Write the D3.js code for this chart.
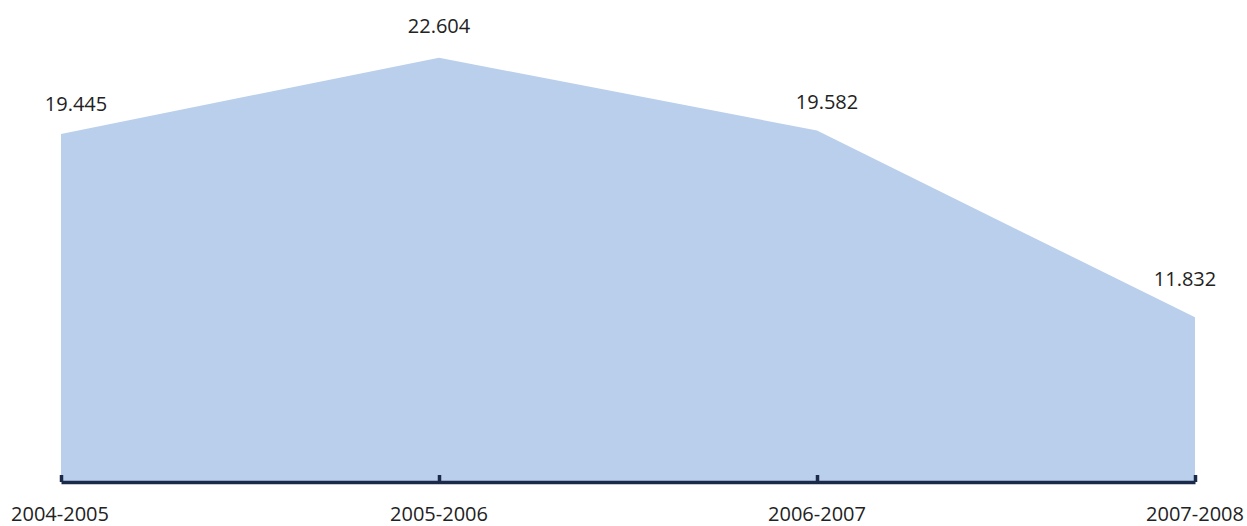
<!DOCTYPE html>
<html>
<head>
<meta charset="utf-8">
<script src="https://cdn.jsdelivr.net/npm/d3@7"></script>
<style>
  body { margin: 0; background: #fff; }
  text { font-family: "Open Sans", sans-serif; fill: #222; }
</style>
</head>
<body>
<div id="chart"></div>
<script>
// data
var categories = ["2004-2005", "2005-2006", "2006-2007", "2007-2008"];
var values = [19.445, 22.604, 19.582, 11.832];
var valueLabels = ["19.445", "22.604", "19.582", "11.832"];

// label nudges (Excel moved some of them)
var labelDx = [15, 0, 10, -10];
var labelDy = [-23, -25, -22, -31];

var width = 1247, height = 526;

var svg = d3.select("#chart")
  .append("svg")
  .attr("width", width)
  .attr("height", height);

var xScale = d3.scalePoint()
  .domain(categories)
  .range([61, 1195]);

var yScale = d3.scaleLinear()
  .domain([5, 25])
  .range([482, 0]);

var data = categories.map(function (c, i) { return { cat: c, val: values[i] }; });

// the area
var area = d3.area()
  .x(d => xScale(d.cat))
  .y0(yScale(5))
  .y1(d => yScale(d.val));

svg.append("path")
  .datum(data)
  .attr("d", area)
  .attr("fill", "#b9cfeb");

// x axis, ticks pointing up
var axis = svg.append("g")
  .attr("transform", "translate(0," + yScale(5) + ")")
  .call(d3.axisBottom(xScale).tickSize(-7).tickSizeOuter(0).tickFormat(""));

axis.select(".domain")
  .attr("stroke", "#1c2a4a")
  .attr("stroke-width", 3.5);
axis.selectAll(".tick line")
  .attr("stroke", "#1c2a4a")
  .attr("stroke-width", 3.5);

// category labels
svg.append("g")
  .selectAll("text")
  .data(categories)
  .join("text")
  .attr("x", d => xScale(d) + (d === categories[0] ? -1 : 0))
  .attr("y", 521)
  .attr("text-anchor", "middle")
  .style("font-size", "20px")
  .text(d => d);

// value labels
svg.append("g")
  .selectAll("text")
  .data(data)
  .join("text")
  .attr("x", (d, i) => xScale(d.cat) + labelDx[i])
  .attr("y", (d, i) => yScale(d.val) + labelDy[i])
  .attr("text-anchor", "middle")
  .style("font-size", "20px")
  .text((d, i) => valueLabels[i]);
</script>
</body>
</html>
